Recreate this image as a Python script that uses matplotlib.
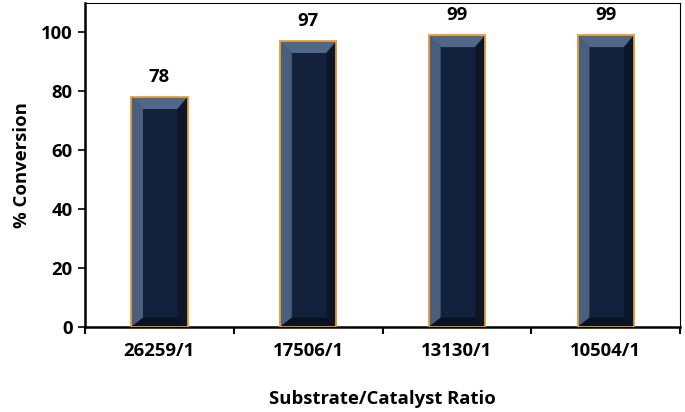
import numpy as np
import matplotlib.pyplot as plt
from matplotlib.patches import Polygon

# data
ratios = ["26259/1", "17506/1", "13130/1", "10504/1"]
conversion = [78, 97, 99, 99]

plt.rcParams['font.family'] = ['Open Sans', 'DejaVu Sans']
plt.rcParams['font.weight'] = 'bold'
FS = 13.3

fig = plt.figure(figsize=(6.85, 4.12), dpi=100)
ax = fig.add_axes([0.124, 0.206, 0.869, 0.787])

x = np.arange(len(ratios))
bars = ax.bar(x, conversion, width=0.38, color="#12213c",
              edgecolor="#f2a33a", linewidth=1.2, zorder=2)

# bevel look: light top/left, dark right/bottom, drawn inside each bar
bev_x = 0.08   # in category units
bev_y = 4.0    # in % units
for b in bars:
    x0, y0 = b.get_x(), b.get_y()
    w, h = b.get_width(), b.get_height()
    x1, y1 = x0 + w, y0 + h
    ix0, ix1 = x0 + bev_x, x1 - bev_x * 0.85
    iy0, iy1 = y0 + bev_y * 0.8, y1 - bev_y
    left = [(x0, y0), (ix0, iy0), (ix0, iy1), (x0, y1)]
    top = [(x0, y1), (ix0, iy1), (ix1, iy1), (x1, y1)]
    right = [(x1, y1), (ix1, iy1), (ix1, iy0), (x1, y0)]
    bottom = [(x0, y0), (x1, y0), (ix1, iy0), (ix0, iy0)]
    for pts, c in [(left, "#4a5f7e"), (top, "#506788"),
                   (right, "#0b1628"), (bottom, "#091220")]:
        ax.add_patch(Polygon(pts, closed=True, facecolor=c,
                             edgecolor="none", zorder=3))
    # redraw orange outline on top
    ax.add_patch(plt.Rectangle((x0, y0), w, h, fill=False,
                               edgecolor="#f2a33a", linewidth=1.2, zorder=4))
    ax.annotate(f"{h:.0f}", (x0 + w / 2, y1), xytext=(0, 8),
                textcoords="offset points", ha="center", va="bottom",
                fontsize=FS, fontweight="bold", color="black")

ax.set_xlim(-0.5, len(ratios) - 0.5)
ax.set_ylim(0, 110)
ax.set_yticks(range(0, 101, 20))
ax.set_xticks(x)
ax.set_xticklabels(ratios)
ax.set_xticks(np.arange(-0.5, len(ratios), 1), minor=True)
ax.tick_params(axis="x", which="major", length=0, pad=11, labelsize=FS)
ax.tick_params(axis="x", which="minor", length=5, width=1.5, direction="out")
ax.tick_params(axis="y", length=5, width=1.2, direction="out", labelsize=FS, pad=4)

for side in ["left", "bottom"]:
    ax.spines[side].set_linewidth(1.8)
for side in ["top", "right"]:
    ax.spines[side].set_linewidth(0.8)

ax.set_ylabel("% Conversion", fontsize=FS, fontweight="bold", labelpad=7)
ax.set_xlabel("Substrate/Catalyst Ratio", fontsize=FS, fontweight="bold", labelpad=21)

fig.savefig("out.png", dpi=100)
